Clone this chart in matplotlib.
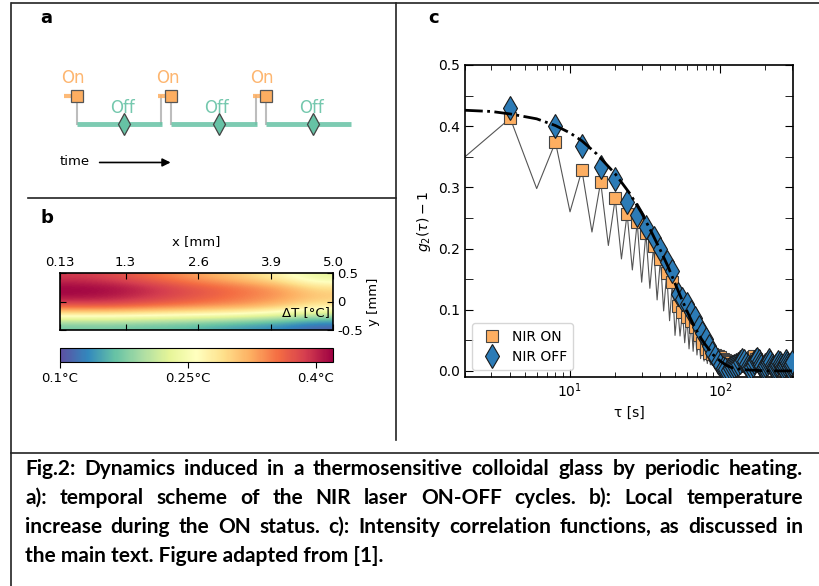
import numpy as np
import matplotlib
matplotlib.use('Agg')
import matplotlib.pyplot as plt
from matplotlib.lines import Line2D
from matplotlib.ticker import MultipleLocator, LogLocator, NullFormatter

W, H = 819, 586

# panel a: ON-OFF cycles (cycle index)
cycles = [0, 1, 2]

# panel b: local temperature increase (rows top -> bottom, y = 0.5 .. -0.5)
deltaT = [
    [0.39, 0.38, 0.36, 0.34, 0.32, 0.30, 0.27, 0.23],
    [0.42, 0.415, 0.40, 0.38, 0.365, 0.35, 0.33, 0.29],
    [0.415, 0.41, 0.395, 0.38, 0.365, 0.35, 0.335, 0.31],
    [0.37, 0.37, 0.36, 0.35, 0.34, 0.33, 0.31, 0.28],
    [0.26, 0.26, 0.255, 0.25, 0.245, 0.235, 0.22, 0.20],
    [0.17, 0.17, 0.165, 0.16, 0.15, 0.14, 0.13, 0.11],
]
xTicks = [0.13, 1.3, 2.6, 3.9, 5.0]
xTickLabels = ['0.13', '1.3', '2.6', '3.9', '5.0']
yTicks = [0.5, 0, -0.5]
yTickLabels = ['0.5', '0', '-0.5']
cbarTicks = [0.1, 0.25, 0.4]
cbarLabels = ['0.1°C', '0.25°C', '0.4°C']

# panel c: intensity correlation functions
lag = np.arange(4, 301, 4)
g2On = [0.413, 0.374, 0.328, 0.309, 0.282, 0.257, 0.243, 0.225, 0.204, 0.183,
        0.160, 0.146, 0.106, 0.097, 0.088, 0.082, 0.072, 0.059, 0.045, 0.035,
        0.030, 0.028, 0.026, 0.024, 0.022, 0.020, 0.018, 0.016, 0.014, 0.012,
        0.010, 0.008, 0.012, 0.015, 0.018, 0.020, 0.014, 0.010, 0.012, 0.016,
        0.022, 0.024, 0.020, 0.015, 0.010, 0.008, 0.012, 0.014, 0.010, 0.008,
        0.006, 0.010, 0.012, 0.009, 0.006, 0.008, 0.011, 0.013, 0.010, 0.007,
        0.005, 0.008, 0.010, 0.012, 0.009, 0.006, 0.008, 0.011, 0.013, 0.010,
        0.007, 0.009, 0.012, 0.010, 0.008]
g2Off = [0.430, 0.401, 0.367, 0.333, 0.313, 0.276, 0.255, 0.236, 0.218, 0.200,
         0.178, 0.163, 0.125, 0.118, 0.110, 0.097, 0.086, 0.072, 0.062, 0.052,
         0.040, 0.030, 0.022, 0.015, 0.010, 0.005, 0.003, 0.002, 0.004, 0.006,
         0.008, 0.010, 0.012, 0.015, 0.018, 0.016, 0.012, 0.008, 0.005, 0.007,
         0.010, 0.014, 0.017, 0.019, 0.016, 0.012, 0.008, 0.005, 0.006, 0.009,
         0.012, 0.015, 0.017, 0.014, 0.010, 0.006, 0.004, 0.006, 0.009, 0.012,
         0.015, 0.013, 0.010, 0.007, 0.005, 0.008, 0.011, 0.014, 0.016, 0.013,
         0.010, 0.007, 0.009, 0.012, 0.014]
# full correlation between the cycles (lags 2, 6, 10, ...)
lagMid = np.arange(2, 300, 4)
g2Mid = [0.350, 0.298, 0.260, 0.227, 0.205, 0.183, 0.165, 0.145, 0.135, 0.116,
         0.098, 0.082, 0.058, 0.057, 0.046, 0.036, 0.032, 0.026, 0.020, 0.016,
         0.012, 0.010, 0.008, 0.006, 0.005, 0.004, 0.003, 0.002, 0.001, 0.000,
         0.001, 0.002, 0.003, 0.002, 0.001, 0.000, 0.001, 0.003, 0.004, 0.002,
         0.001, 0.000, 0.002, 0.003, 0.001, 0.000, 0.001, 0.002, 0.003, 0.001,
         0.000, 0.001, 0.002, 0.001, 0.000, 0.002, 0.003, 0.001, 0.000, 0.001,
         0.002, 0.001, 0.000, 0.001, 0.003, 0.002, 0.000, 0.001, 0.002, 0.001,
         0.000, 0.002, 0.001, 0.000, 0.001]
fitLag = [2, 3, 4, 6, 8, 10, 12, 15, 20, 25, 30, 35, 40, 45, 50, 55, 60, 65, 70,
          75, 80, 90, 100, 110, 120, 140, 170, 200, 250, 300]
fitG2 = [0.426, 0.424, 0.420, 0.412, 0.401, 0.389, 0.376, 0.355, 0.322, 0.290,
         0.258, 0.226, 0.197, 0.170, 0.143, 0.119, 0.098, 0.080, 0.065, 0.052,
         0.042, 0.026, 0.016, 0.009, 0.005, 0.002, 0.001, 0.0, 0.0, 0.0]

caption = ['Fig.2: Dynamics induced in a thermosensitive colloidal glass by periodic heating.',
           'a): temporal scheme of the NIR laser ON-OFF cycles. b): Local temperature',
           'increase during the ON status. c): Intensity correlation functions, as discussed in',
           'the main text. Figure adapted from [1].']

onColor = '#fdae61'
offColor = '#66c2a5'
blue = '#2c7bb6'


def box(x, y, w, h):
    # pixel box (top-left origin) -> figure fraction
    return [x / W, 1 - (y + h) / H, w / W, h / H]


def figLine(xs, ys):
    fig.add_artist(Line2D([x / W for x in xs], [1 - y / H for y in ys],
                          transform=fig.transFigure, color='#222222', lw=1.2))


fig = plt.figure(figsize=(W / 100, H / 100), dpi=100)

# frame lines
figLine([12, 819], [3, 3])
figLine([11, 11], [3, 586])
figLine([396, 396], [3, 440])
figLine([28, 396], [198, 198])
figLine([11, 819], [453, 453])

# panel letters
fig.text(40 / W, 1 - 18 / H, 'a', fontsize=13, fontweight='bold', va='center')
fig.text(40 / W, 1 - 218 / H, 'b', fontsize=13, fontweight='bold', va='center')
fig.text(428 / W, 1 - 18 / H, 'c', fontsize=13, fontweight='bold', va='center')

# ---- panel a
axA = fig.add_axes(box(30, 20, 360, 170))
axA.set_xlim(-0.497, 3.312)
axA.set_ylim(-2.316, 3.65)
axA.axis('off')
for i in cycles:
    axA.plot([i, i + 0.9], [0, 0], color=offColor, alpha=0.85, lw=3.5,
             solid_capstyle='butt', zorder=2)
    axA.plot([i, i], [0, 1], color='#bdbdbd', lw=1.5, zorder=1)
    if i != cycles[-1]:
        axA.plot([i + 0.89, i + 0.89], [0, 1], color='#bdbdbd', lw=1.5, zorder=1)
    axA.plot([i - 0.14, i], [1, 1], color=onColor, alpha=0.85, lw=3,
             solid_capstyle='butt', zorder=2)
    axA.plot(i, 1, 's', ms=8, mfc=onColor, mec='#555555', mew=0.9, zorder=3)
    axA.plot(i + 0.5, 0, 'd', ms=11, mfc=offColor, mec='#444444', mew=0.9, zorder=3)
    axA.text(i - 0.04, 1.6, 'On', color=onColor, alpha=0.9, fontsize=12,
             ha='center', va='center')
    axA.text(i + 0.48, 0.56, 'Off', color=offColor, alpha=0.9, fontsize=12,
             ha='center', va='center')
axA.text(-0.18, -1.3, 'time', fontsize=9.5, ha='left', va='center')
axA.annotate('', xy=(1.02, -1.35), xytext=(0.21, -1.35),
             arrowprops=dict(arrowstyle='-|>', color='black', lw=1.2,
                             mutation_scale=12))

# ---- panel b
axB = fig.add_axes(box(60, 273, 273, 57))
im = axB.imshow(deltaT, cmap='Spectral_r', vmin=0.1, vmax=0.42,
                extent=[0.13, 5.0, -0.5, 0.5], aspect='auto',
                interpolation='bicubic')
axB.set_xticks(xTicks)
axB.set_xticklabels(xTickLabels)
axB.set_yticks(yTicks)
axB.set_yticklabels(yTickLabels)
axB.xaxis.tick_top()
axB.xaxis.set_label_position('top')
axB.yaxis.tick_right()
axB.yaxis.set_label_position('right')
axB.tick_params(direction='in', top=True, bottom=True, left=True, right=True,
                labelsize=9.5, length=4, pad=3)
axB.set_xlabel('x [mm]', fontsize=9.5, labelpad=8)
axB.set_ylabel('y [mm]', fontsize=9.5, labelpad=3)
axB.text(4.95, -0.2, 'ΔT [°C]', fontsize=9.5, ha='right', va='center')
for s in axB.spines.values():
    s.set_linewidth(1.2)

cax = fig.add_axes(box(60, 348, 273, 14))
cb = fig.colorbar(im, cax=cax, orientation='horizontal', ticks=cbarTicks)
cb.ax.set_xticklabels(cbarLabels)
cb.ax.tick_params(labelsize=9.5, length=4)

# ---- panel c
axC = fig.add_axes(box(465, 65, 328, 312))
lineT = np.column_stack([lagMid, lag]).ravel()
lineY = np.column_stack([g2Mid, g2On]).ravel()
axC.plot(lineT, lineY, color='#555555', lw=0.8, zorder=1)
axC.plot(lag, g2On, 's', ms=9, mfc=onColor, mec='#444444', mew=0.8,
         label='NIR ON', zorder=2)
axC.plot(lag, g2Off, 'd', ms=12, mfc=blue, mec='#1a1a1a', mew=0.8,
         label='NIR OFF', zorder=3)
axC.plot(fitLag, fitG2, color='black', ls='-.', lw=2, zorder=4)
axC.set_xscale('log')
axC.set_xlim(2, 305)
axC.set_ylim(-0.01, 0.5)
axC.yaxis.set_major_locator(MultipleLocator(0.1))
axC.yaxis.set_minor_locator(MultipleLocator(0.05))
axC.xaxis.set_minor_locator(LogLocator(base=10, subs=np.arange(2, 10)))
axC.xaxis.set_minor_formatter(NullFormatter())
axC.tick_params(which='both', direction='in', top=True, right=True, labelsize=10)
axC.tick_params(which='major', length=6)
axC.tick_params(axis='x', which='minor', length=3.5)
axC.tick_params(axis='y', which='minor', length=6)
axC.set_xlabel('τ [s]', fontsize=10)
axC.set_ylabel(r'$g_2(\tau) - 1$', fontsize=10)
for s in axC.spines.values():
    s.set_linewidth(1.2)
axC.legend(loc='lower left', fontsize=10, handletextpad=0.4,
           borderpad=0.45, labelspacing=0.45)

# ---- caption, justified
capFont = dict(family='Lato', fontweight='bold', fontsize=15, va='center')
fig.canvas.draw()
renderer = fig.canvas.get_renderer()
x0, x1 = 25 / W, 803 / W
for k, line in enumerate(caption):
    y = 1 - (469 + 29 * k) / H
    if k == len(caption) - 1:
        fig.text(x0, y, line, **capFont)
        continue
    words = line.split()
    texts = [fig.text(0, y, w, **capFont) for w in words]
    widths = [t.get_window_extent(renderer).width / fig.bbox.width for t in texts]
    gap = (x1 - x0 - sum(widths)) / (len(words) - 1)
    pos = x0
    for t, w in zip(texts, widths):
        t.set_x(pos)
        pos += w + gap

plt.savefig('out.png', dpi=100)
